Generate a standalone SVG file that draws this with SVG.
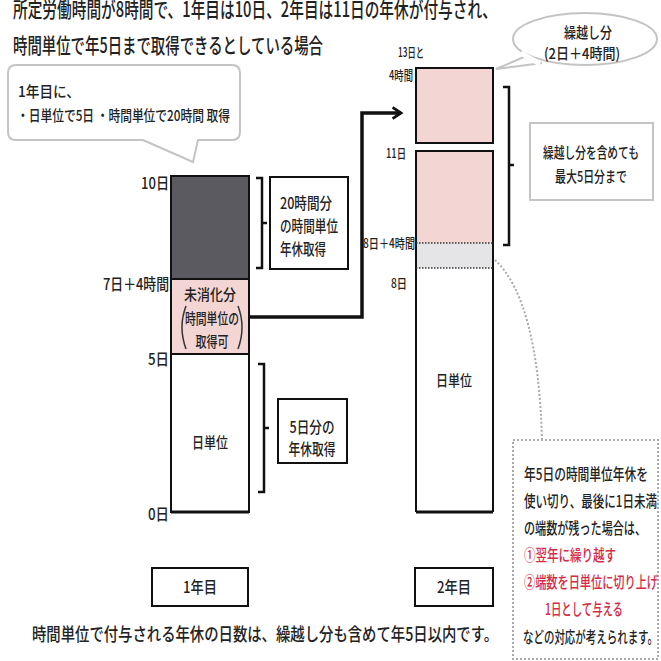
<svg xmlns="http://www.w3.org/2000/svg" width="661" height="661" viewBox="0 0 661 661">
<style>
text{font-family:"Noto Sans CJK JP","Noto Sans CJK SC",sans-serif;fill:#222;font-weight:500;}
.t15{font-size:15px;}
.t16{font-size:16px;}
.t13{font-size:13px;}
.t21{font-size:21px;}
.t18{font-size:18px;}
.red{fill:#d42a45;}
.bar{stroke:#111;stroke-width:2;}
.box{fill:#fff;stroke:#111;stroke-width:2;}
.brk{fill:none;stroke:#111;stroke-width:2.5;}
.soft{fill:#fff;stroke:#c4c4c4;stroke-width:2;}
.dot{fill:none;stroke:#aaa;stroke-width:2;stroke-dasharray:2 2;}
.mid{text-anchor:middle;}
.end{text-anchor:end;}
</style>
<defs>
<marker id="arr" viewBox="0 0 10 10" refX="8" refY="5" markerWidth="4" markerHeight="4" orient="auto" markerUnits="strokeWidth">
<polyline points="2,1 8,5 2,9" fill="none" stroke="#111" stroke-width="2"/>
</marker>
</defs>
<rect width="661" height="661" fill="#fff"/>

<g id="title">
<text class="t21" x="13" y="17" textLength="484" lengthAdjust="spacingAndGlyphs">所定労働時間が8時間で、1年目は10日、2年目は11日の年休が付与され、</text>
<text class="t21" x="13" y="53" textLength="310" lengthAdjust="spacingAndGlyphs">時間単位で年5日まで取得できるとしている場合</text>
</g>

<g id="callout-left">
<path class="soft" d="M16,65 H232 Q240,65 240,73 V132 Q240,140 232,140 H198 L193,162 L143,140 H16 Q8,140 8,132 V73 Q8,65 16,65 Z"/>
<text class="t15" x="18" y="97" textLength="62" lengthAdjust="spacingAndGlyphs">1年目に、</text>
<text class="t15" x="17" y="121" textLength="213" lengthAdjust="spacingAndGlyphs">・日単位で5日 ・時間単位で20時間 取得</text>
</g>

<g id="bar1">
<rect x="171" y="176" width="78" height="103" fill="#5b5a60"/>
<rect x="171" y="279" width="78" height="75" fill="#f3d6d4"/>
<rect x="171" y="354" width="78" height="158" fill="#fff"/>
<rect class="bar" x="171" y="176" width="78" height="336" fill="none"/>
<line class="bar" x1="171" y1="279" x2="249" y2="279"/>
<line class="bar" x1="171" y1="354" x2="249" y2="354"/>
<line x1="171" y1="512" x2="249" y2="512" stroke="#111" stroke-width="3"/>
<text class="t15 mid" x="210" y="300" textLength="52" lengthAdjust="spacingAndGlyphs">未消化分</text>
<text class="t15 mid" x="212" y="324" textLength="54" lengthAdjust="spacingAndGlyphs">時間単位の</text>
<text class="t15 mid" x="212" y="347" textLength="33" lengthAdjust="spacingAndGlyphs">取得可</text>
<path d="M186,306 Q178,327 186,349" fill="none" stroke="#333" stroke-width="1.5"/>
<path d="M238,306 Q246,327 238,349" fill="none" stroke="#333" stroke-width="1.5"/>
<text class="t15 mid" x="210" y="448" textLength="36" lengthAdjust="spacingAndGlyphs">日単位</text>
</g>

<g id="axis1">
<text class="t16 end" x="169" y="189" textLength="28" lengthAdjust="spacingAndGlyphs">10日</text>
<text class="t16 end" x="169" y="290" textLength="66" lengthAdjust="spacingAndGlyphs">7日＋4時間</text>
<text class="t16 end" x="169" y="365" textLength="21" lengthAdjust="spacingAndGlyphs">5日</text>
<text class="t16 end" x="169" y="520" textLength="21" lengthAdjust="spacingAndGlyphs">0日</text>
</g>

<g id="note-20h">
<path class="brk" d="M256,178 H262 V268 H256 M262,223 H267"/>
<rect class="box" x="270" y="177" width="78" height="92"/>
<text class="t16" x="280" y="209" textLength="52" lengthAdjust="spacingAndGlyphs">20時間分</text>
<text class="t16" x="280" y="232" textLength="58" lengthAdjust="spacingAndGlyphs">の時間単位</text>
<text class="t16" x="280" y="255" textLength="46" lengthAdjust="spacingAndGlyphs">年休取得</text>
</g>

<g id="note-5d">
<path class="brk" d="M258,364 H264 V492 H258 M264,428 H269"/>
<rect class="box" x="278" y="399" width="69" height="64"/>
<text class="t16 mid" x="312" y="433" textLength="45" lengthAdjust="spacingAndGlyphs">5日分の</text>
<text class="t16 mid" x="312" y="455" textLength="47" lengthAdjust="spacingAndGlyphs">年休取得</text>
</g>

<g id="connectors">
<path d="M249,317 H362 V113 H401" fill="none" stroke="#111" stroke-width="3.5" marker-end="url(#arr)"/>
<path class="dot" d="M495,260 Q538,300 542,440"/>
</g>

<g id="bar2">
<rect class="bar" x="416" y="68" width="77" height="75" fill="#f3d6d4"/>
<rect x="416" y="151" width="77" height="92" fill="#f3d6d4"/>
<rect x="416" y="243" width="77" height="25" fill="#e5e5e8"/>
<rect x="416" y="268" width="77" height="244" fill="#fff"/>
<path class="bar" d="M416,512 V151 H493 V512" fill="none"/>
<line x1="416" y1="512" x2="493" y2="512" stroke="#111" stroke-width="3"/>
<line x1="416" y1="243" x2="493" y2="243" stroke="#333" stroke-width="1.5" stroke-dasharray="1.5 1.5"/>
<line x1="416" y1="268" x2="493" y2="268" stroke="#333" stroke-width="1.5" stroke-dasharray="1.5 1.5"/>
<text class="t15 mid" x="454" y="386" textLength="36" lengthAdjust="spacingAndGlyphs">日単位</text>
</g>

<g id="axis2">
<text class="t13 end" x="424" y="57" textLength="26" lengthAdjust="spacingAndGlyphs">13日と</text>
<text class="t13 end" x="413" y="80" textLength="24" lengthAdjust="spacingAndGlyphs">4時間</text>
<text class="t13 end" x="406" y="158" textLength="20" lengthAdjust="spacingAndGlyphs">11日</text>
<text class="t13 end" x="415" y="248" textLength="52" lengthAdjust="spacingAndGlyphs">8日＋4時間</text>
<text class="t13 end" x="407" y="288" textLength="16" lengthAdjust="spacingAndGlyphs">8日</text>
</g>

<g id="callout-right">
<path class="soft" d="M524,57 L496,69 L542,63 Z"/>
<ellipse cx="585" cy="39" rx="72" ry="26" fill="#fff" stroke="#c4c4c4" stroke-width="2"/>
<path d="M521,53 L540,64" stroke="#fff" stroke-width="5"/>
<text class="t15 mid" x="588" y="38" textLength="48" lengthAdjust="spacingAndGlyphs">繰越し分</text>
<text class="t15 mid" x="582" y="59" textLength="76" lengthAdjust="spacingAndGlyphs">(2日＋4時間)</text>
</g>

<g id="note-max">
<path class="brk" d="M503,87 H509 V245 H503 M509,165 H514"/>
<rect class="soft" x="530" y="123" width="123" height="77"/>
<text class="t15 mid" x="591" y="158" textLength="96" lengthAdjust="spacingAndGlyphs">繰越し分を含めても</text>
<text class="t15 mid" x="591" y="182" textLength="72" lengthAdjust="spacingAndGlyphs">最大5日分まで</text>
</g>

<g id="note-fraction">
<rect class="dot" x="513" y="440" width="145" height="219" fill="#fff"/>
<text class="t16" x="524" y="480" textLength="124" lengthAdjust="spacingAndGlyphs">年5日の時間単位年休を</text>
<text class="t16" x="524" y="507" textLength="133" lengthAdjust="spacingAndGlyphs">使い切り、最後に1日未満</text>
<text class="t16" x="524" y="534" textLength="122" lengthAdjust="spacingAndGlyphs">の端数が残った場合は、</text>
<text class="t16 red" x="524" y="561" textLength="92" lengthAdjust="spacingAndGlyphs">①翌年に繰り越す</text>
<text class="t16 red" x="524" y="588" textLength="134" lengthAdjust="spacingAndGlyphs">②端数を日単位に切り上げ</text>
<text class="t16 red" x="545" y="615" textLength="78" lengthAdjust="spacingAndGlyphs">1日として与える</text>
<text class="t16" x="523" y="643" textLength="135" lengthAdjust="spacingAndGlyphs">などの対応が考えられます。</text>
</g>

<g id="year1">
<rect class="box" x="152" y="568" width="96" height="38"/>
<text class="t16 mid" x="200" y="593" textLength="34" lengthAdjust="spacingAndGlyphs">1年目</text>
</g>
<g id="year2">
<rect class="box" x="415" y="568" width="78" height="38"/>
<text class="t16 mid" x="454" y="593" textLength="34" lengthAdjust="spacingAndGlyphs">2年目</text>
</g>

<g id="footer">
<text class="t18" x="32" y="641" textLength="466" lengthAdjust="spacingAndGlyphs">時間単位で付与される年休の日数は、繰越し分も含めて年5日以内です。</text>
</g>
</svg>
